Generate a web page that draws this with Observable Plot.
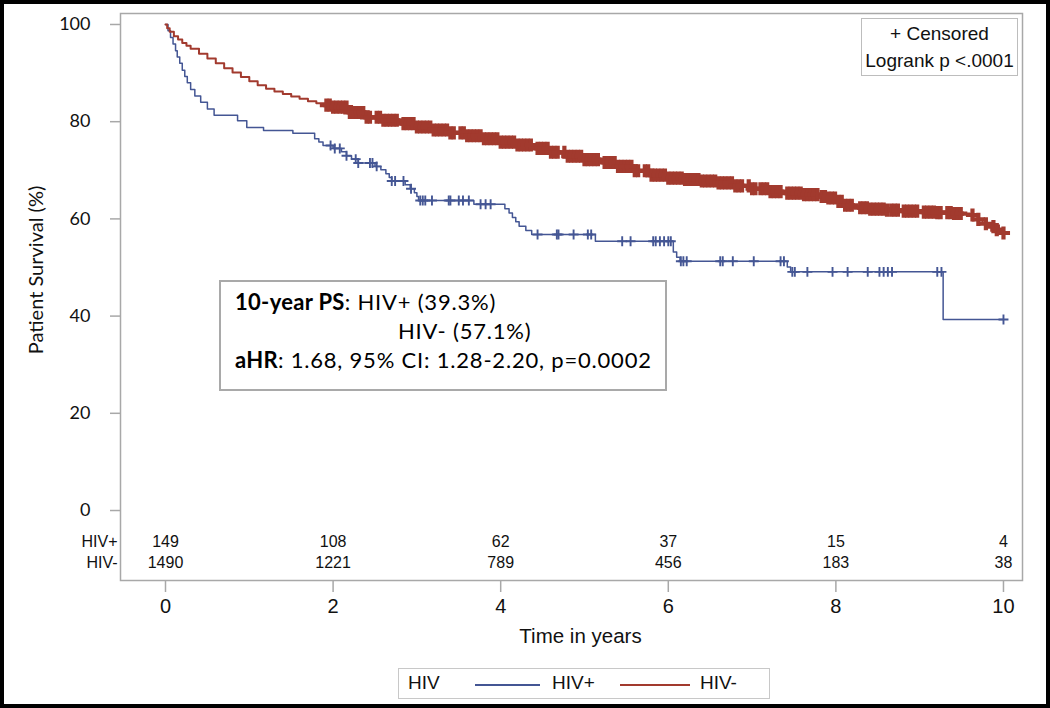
<!DOCTYPE html>
<html>
<head>
<meta charset="utf-8">
<script src="https://cdn.jsdelivr.net/npm/d3@7"></script>
<script src="https://cdn.jsdelivr.net/npm/@observablehq/plot@0.6"></script>
<style>
  html, body { margin: 0; padding: 0; background: #fff; }
  #wrap { position: relative; width: 1050px; height: 708px; background: #fff; overflow: hidden; }
  #border { position: absolute; left: 0; top: 0; width: 1050px; height: 708px; box-sizing: border-box; border: 4px solid #000; pointer-events: none; z-index: 10; }
  #chart { position: absolute; left: 0; top: 0; }
  .arial { font-family: "Liberation Sans", Arial, sans-serif; }
  #censbox { position: absolute; left: 861px; top: 18px; width: 157px; height: 58px; box-sizing: border-box;
    border: 1px solid #bdbdbd; background: #fff; text-align: center; font-size: 19px; line-height: 27px; padding-top: 1px; color: #111; white-space: nowrap; }
  #note { position: absolute; left: 219px; top: 280px; width: 448px; height: 111px; box-sizing: border-box;
    border: 2px solid #a9a9a9; background: #fff; font-family: Lato, "Open Sans", sans-serif; font-size: 22px; letter-spacing: 0.8px; line-height: 29px;
    padding: 5px 0 0 14px; color: #000; white-space: nowrap; }
  #note b { font-weight: 700; letter-spacing: 0.3px; }
  #legend { position: absolute; left: 398px; top: 668px; width: 372px; height: 31px; box-sizing: border-box;
    border: 1px solid #c8c8c8; background: #fff; font-size: 19px; color: #111; }
  #legend span { position: absolute; top: 3px; }
  #legend i { position: absolute; top: 15px; height: 0; border-top: 2px solid; }
</style>
</head>
<body>
<div id="wrap">
  <div id="chart"></div>
  <div id="censbox" class="arial"><div>+ Censored</div><div>Logrank p &lt;.0001</div></div>
  <div id="note">
    <div><b>10-year PS</b>: HIV+ (39.3%)</div>
    <div style="padding-left:163px">HIV- (57.1%)</div>
    <div><b>aHR</b>: 1.68, 95% CI: 1.28-2.20, p=0.0002</div>
  </div>
  <div id="legend" class="arial">
    <span style="left:9px">HIV</span>
    <i style="left:76px; width:65px; border-color:#445694"></i>
    <span style="left:153px">HIV+</span>
    <i style="left:221px; width:70px; border-color:#A23A2E"></i>
    <span style="left:301px">HIV-</span>
  </div>
  <div id="border"></div>
</div>
<script>
// ---- Data ----
const groups = ["HIV+", "HIV-"];
const groupColors = ["#445694", "#A23A2E"];

// Kaplan-Meier steps (years, survival %)
const hivPosTime = [0,0.03,0.06,0.09,0.12,0.14,0.17,0.2,0.23,0.26,0.3,0.35,0.42,0.5,0.58,0.86,0.97,1.17,1.52,1.78,1.83,1.88,2.0,2.1,2.16,2.22,2.3,2.5,2.57,2.63,2.67,2.7,2.86,2.92,2.97,3.0,3.02,3.68,4.05,4.1,4.14,4.18,4.22,4.3,4.37,5.13,6.06,6.1,6.14,7.42,7.46,9.28,10.0];
const hivPosSurv = [100,98.7,97.3,96.0,94.6,93.3,92.0,90.6,89.3,88.0,86.6,85.3,84.0,82.6,81.3,80.2,78.8,78.2,77.6,76.5,75.8,75.1,74.5,73.8,73.0,72.3,71.5,70.8,70.1,69.3,68.5,67.8,67.0,66.2,65.4,64.6,63.8,63.0,62.1,61.2,60.3,59.4,58.5,57.6,56.8,55.4,53.2,52.1,51.3,50.1,49.1,39.3,39.3];

const hivNegTime = [0,0.02,0.05,0.1,0.15,0.2,0.25,0.3,0.4,0.5,0.6,0.7,0.8,0.9,1.0,1.1,1.2,1.3,1.4,1.5,1.6,1.7,1.8,1.9,2.0,2.2,2.4,2.6,2.8,3.0,3.2,3.4,3.6,3.8,4.0,4.2,4.4,4.6,4.8,5.0,5.2,5.4,5.6,5.8,6.0,6.2,6.4,6.6,6.8,7.0,7.2,7.4,7.6,7.8,7.9,8.0,8.1,8.2,8.4,8.6,8.8,9.0,9.2,9.4,9.6,9.7,9.75,9.8,9.92,9.98,10.02];
const hivNegSurv = [100,99.2,98.5,97.6,96.9,96.2,95.6,95.0,94.0,93.0,92.0,91.0,90.1,89.2,88.3,87.5,86.8,86.2,85.7,85.2,84.7,84.2,83.8,83.4,83.0,81.9,80.9,80.3,79.6,78.9,78.3,77.7,77.1,76.5,75.8,75.2,74.5,73.7,72.9,72.2,71.6,70.8,69.9,69.0,68.4,68.1,67.8,67.4,66.8,66.2,65.6,65.3,65.0,64.6,64.3,63.6,62.8,62.3,62.0,61.8,61.6,61.4,61.3,61.1,60.8,59.9,59.0,58.4,57.8,57.1,57.1];

// Censoring times (years)
const hivPosCensor = [1.97,2.02,2.08,2.16,2.27,2.30,2.44,2.47,2.52,2.70,2.74,2.84,2.93,3.04,3.07,3.10,3.18,3.38,3.40,3.50,3.55,3.62,3.76,3.82,3.88,4.44,4.67,4.69,4.87,5.04,5.08,5.45,5.55,5.82,5.85,5.90,5.95,6.00,6.03,6.15,6.18,6.22,6.62,6.65,6.77,7.02,7.34,7.38,7.48,7.51,7.66,7.96,8.14,8.38,8.52,8.57,8.62,8.67,9.21,9.26,10.0];
const hivNegCensor = [1.92,1.96,2.00,2.04,2.08,2.12,2.16,2.20,2.24,2.28,2.32,2.36,2.40,2.44,2.52,2.56,2.60,2.64,2.68,2.72,2.76,2.84,2.88,2.92,2.96,3.00,3.04,3.08,3.12,3.16,3.20,3.24,3.28,3.32,3.36,3.40,3.44,3.52,3.56,3.60,3.64,3.68,3.72,3.76,3.80,3.84,3.88,3.92,3.96,4.00,4.04,4.08,4.12,4.16,4.20,4.24,4.28,4.32,4.36,4.44,4.48,4.52,4.56,4.60,4.64,4.68,4.76,4.80,4.84,4.88,4.92,4.96,5.00,5.04,5.08,5.12,5.16,5.24,5.28,5.32,5.36,5.40,5.44,5.48,5.52,5.56,5.60,5.64,5.72,5.76,5.80,5.84,5.88,5.92,5.96,6.00,6.04,6.08,6.12,6.16,6.20,6.24,6.28,6.32,6.36,6.40,6.44,6.48,6.52,6.56,6.60,6.64,6.68,6.72,6.76,6.80,6.84,6.88,6.96,7.00,7.04,7.10,7.14,7.18,7.22,7.26,7.30,7.34,7.42,7.46,7.50,7.54,7.58,7.62,7.66,7.70,7.74,7.78,7.83,7.87,7.91,7.95,7.99,8.03,8.07,8.11,8.15,8.19,8.29,8.33,8.37,8.41,8.45,8.49,8.53,8.57,8.61,8.66,8.70,8.74,8.81,8.85,8.89,8.93,8.97,9.05,9.09,9.13,9.17,9.21,9.25,9.33,9.37,9.41,9.45,9.49,9.63,9.70,9.79,9.88,9.92,10.0];

// Number at risk table
const riskTimes = [0, 2, 4, 6, 8, 10];
const atRiskPos = [149, 108, 62, 37, 15, 4];
const atRiskNeg = [1490, 1221, 789, 456, 183, 38];

const yTicks = [0, 20, 40, 60, 80, 100];
const xTicks = [0, 2, 4, 6, 8, 10];

// ---- Build tables ----
const survAt = (times, surv, t) => {
  let s = surv[0];
  for (let i = 0; i < times.length; i++) { if (times[i] <= t) s = surv[i]; else break; }
  return s;
};
const curvePos = hivPosTime.map((t, i) => ({t, s: hivPosSurv[i]}));
const curveNeg = hivNegTime.map((t, i) => ({t, s: hivNegSurv[i]}));
const censPos = hivPosCensor.map(t => ({t, s: survAt(hivPosTime, hivPosSurv, t)}));
const censNeg = hivNegCensor.map(t => ({t, s: survAt(hivNegTime, hivNegSurv, t)}));
const riskPos = riskTimes.map((t, i) => ({t, n: String(atRiskPos[i])}));
const riskNeg = riskTimes.map((t, i) => ({t, n: String(atRiskNeg[i])}));

const arial = '"Liberation Sans", Arial, sans-serif';
const calib = 'Lato, "Open Sans", sans-serif';
const gray = "#a8a8a8";

const chart = Plot.plot({
  width: 1050,
  height: 660,
  marginLeft: 120,
  marginRight: 28,
  marginTop: 13,
  marginBottom: 80,
  style: {fontFamily: arial, fontSize: "16px", color: "#111", background: "transparent", overflow: "visible"},
  x: {domain: [-0.537, 10.227]},
  y: {domain: [-14.4, 102.26]},
  marks: [
    Plot.frame({stroke: gray, strokeWidth: 1.5}),
    Plot.line(curvePos, {x: "t", y: "s", curve: "step-after", stroke: groupColors[0], strokeWidth: 1.5}),
    Plot.line(curveNeg, {x: "t", y: "s", curve: "step-after", stroke: groupColors[1], strokeWidth: 2}),
    Plot.dot(censNeg, {x: "t", y: "s", symbol: "plus", r: 4.3, stroke: groupColors[1], strokeWidth: 4.2}),
    Plot.dot(censPos, {x: "t", y: "s", symbol: "plus", r: 3.3, stroke: groupColors[0], strokeWidth: 1.9}),
    Plot.axisY({ticks: yTicks, tickSize: 10, tickPadding: 20, stroke: gray, strokeWidth: 1.5, fill: "#111",
      fontFamily: calib, fontSize: "18px", label: null}),
    Plot.axisX({ticks: xTicks, tickSize: 12, tickPadding: 6, stroke: gray, strokeWidth: 1.5, fill: "#111",
      fontFamily: arial, fontSize: "20px", label: null}),
    Plot.text(["Patient Survival (%)"], {frameAnchor: "left", dx: -84, dy: -27, rotate: -90, textAnchor: "middle",
      fontFamily: calib, fontSize: "20px", fill: "#111"}),
    Plot.text(["Time in years"], {frameAnchor: "bottom", dx: 9, dy: 62, fontFamily: arial, fontSize: "20.5px", fill: "#111"}),
    Plot.text(riskPos, {x: "t", text: "n", frameAnchor: "bottom", dy: -34, fontFamily: arial, fontSize: "16px", fill: "#111"}),
    Plot.text(riskNeg, {x: "t", text: "n", frameAnchor: "bottom", dy: -13, fontFamily: arial, fontSize: "16px", fill: "#111"}),
    Plot.text([groups[0]], {frameAnchor: "bottom-left", dx: -3, dy: -34, textAnchor: "end", fontFamily: arial, fontSize: "16px", fill: "#111"}),
    Plot.text([groups[1]], {frameAnchor: "bottom-left", dx: -3, dy: -13, textAnchor: "end", fontFamily: arial, fontSize: "16px", fill: "#111"})
  ]
});
document.getElementById("chart").appendChild(chart);
</script>
</body>
</html>
